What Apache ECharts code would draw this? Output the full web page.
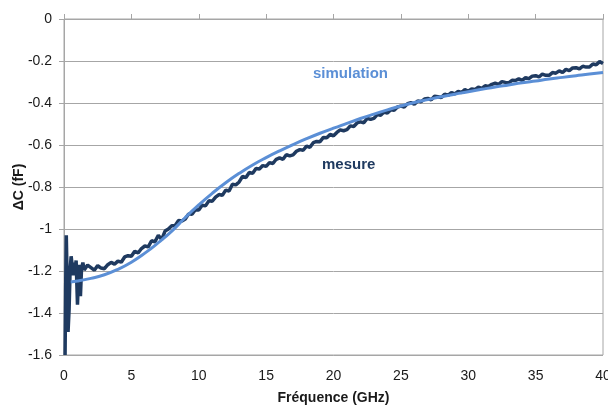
<!DOCTYPE html>
<html>
<head>
<meta charset="utf-8">
<script src="https://cdn.jsdelivr.net/npm/echarts@6/dist/echarts.min.js"></script>
<style>
  html, body { margin: 0; padding: 0; background: #fff; }
  #chart { width: 608px; height: 405px; }
</style>
</head>
<body>
<div id="chart"></div>
<script>
// ticks
const xTicks = [0, 5, 10, 15, 20, 25, 30, 35, 40];
const yTicks = [0, -0.2, -0.4, -0.6, -0.8, -1, -1.2, -1.4, -1.6];

// simulation (courbe lisse), GHz / fF
const simFreq = [0.5, 1, 2, 3, 4, 5, 6, 7, 8, 9, 10, 11, 12, 13, 14, 15, 16, 17, 18, 19, 20,
  21, 22, 23, 24, 25, 26, 27, 28, 29, 30, 31, 32, 33, 34, 35, 36, 37, 38, 39, 40];
const simVal = [-1.252, -1.248, -1.235, -1.218, -1.192, -1.158, -1.115, -1.065, -1.01, -0.945, -0.885,
  -0.83, -0.78, -0.735, -0.695, -0.66, -0.628, -0.598, -0.57, -0.544, -0.52,
  -0.497, -0.474, -0.453, -0.433, -0.414, -0.398, -0.384, -0.37, -0.358, -0.346,
  -0.335, -0.324, -0.314, -0.304, -0.295, -0.286, -0.278, -0.27, -0.262, -0.255];

// mesure : debut tres bruite (points irreguliers)
const mesDebutFreq = [0.08, 0.12, 0.17, 0.22, 0.3, 0.38, 0.45, 0.53, 0.6, 0.68, 0.75, 0.82, 0.9, 1.0, 1.08, 1.15, 1.22, 1.3, 1.4];
const mesDebutVal = [-1.6, -1.3, -1.03, -1.2, -1.49, -1.38, -1.2, -1.13, -1.17, -1.22, -1.16, -1.2, -1.15, -1.36, -1.22, -1.17, -1.32, -1.19, -1.16];

// mesure : pas de 0.25 GHz a partir de 1.5 GHz
const mesPasDebut = 1.5;
const mesPas = 0.25;
const mesVal = [
  -1.195, -1.172,
  -1.184, -1.196, -1.174, -1.186,
  -1.189, -1.17, -1.159, -1.167,
  -1.153, -1.158, -1.133, -1.127,
  -1.13, -1.106, -1.114, -1.093,
  -1.081, -1.085, -1.056, -1.061,
  -1.03, -1.05, -1.01, -1.0,
  -0.984, -0.983, -0.96, -0.962,
  -0.952, -0.928, -0.93, -0.908,
  -0.91, -0.887, -0.89, -0.866,
  -0.868, -0.848, -0.836, -0.84,
  -0.815, -0.819, -0.787, -0.79,
  -0.776, -0.749, -0.755, -0.731,
  -0.735, -0.712, -0.714, -0.698,
  -0.702, -0.684, -0.688, -0.668,
  -0.661, -0.668, -0.646, -0.652,
  -0.647, -0.63, -0.622, -0.625,
  -0.605, -0.611, -0.589, -0.583,
  -0.584, -0.564, -0.566, -0.55,
  -0.556, -0.54, -0.528, -0.532,
  -0.527, -0.509, -0.512, -0.495,
  -0.49, -0.494, -0.473, -0.478,
  -0.473, -0.455, -0.458, -0.443,
  -0.448, -0.432, -0.434, -0.419,
  -0.415, -0.419, -0.403, -0.398,
  -0.406, -0.39, -0.394, -0.381,
  -0.378, -0.385, -0.368, -0.37,
  -0.374, -0.358, -0.364, -0.35,
  -0.357, -0.345, -0.35, -0.336,
  -0.344, -0.333, -0.336, -0.324,
  -0.33, -0.318, -0.321, -0.311,
  -0.306, -0.311, -0.298, -0.302,
  -0.304, -0.292, -0.293, -0.285,
  -0.292, -0.279, -0.284, -0.272,
  -0.27, -0.276, -0.262, -0.268,
  -0.268, -0.255, -0.258, -0.247,
  -0.255, -0.24, -0.246, -0.233,
  -0.232, -0.238, -0.225, -0.229,
  -0.229, -0.214, -0.218, -0.203,
  -0.212
];

const simData = simFreq.map((f, i) => [f, simVal[i]]);
const mesData = mesDebutFreq.map((f, i) => [f, mesDebutVal[i]])
  .concat(mesVal.map((v, i) => [mesPasDebut + i * mesPas, v]));

const police = 'Liberation Sans, Arial, sans-serif';
const gris = '#a6a6a6';

const chart = echarts.init(document.getElementById('chart'));
chart.setOption({
  animation: false,
  grid: {
    left: 64, right: 5, top: 19, bottom: 50, outerBoundsMode: 'none',
    show: true, borderColor: gris, borderWidth: 1
  },
  xAxis: [{
    type: 'value', min: 0, max: 40, interval: 5, position: 'bottom',
    axisLine: { show: true, lineStyle: { color: gris } },
    axisTick: { show: false },
    splitLine: { show: false },
    axisLabel: { color: '#1a1a1a', fontSize: 14, fontFamily: police, margin: 14 },
    name: 'Fréquence (GHz)', nameLocation: 'middle', nameGap: 36,
    nameTextStyle: { color: '#1a1a1a', fontSize: 14, fontWeight: 'bold', fontFamily: police }
  }, {
    type: 'value', min: 0, max: 40, interval: 5, position: 'top',
    axisLine: { show: true, lineStyle: { color: gris } },
    axisTick: { show: true, length: 5, lineStyle: { color: gris } },
    axisLabel: { show: false }, splitLine: { show: false }
  }],
  yAxis: {
    type: 'value', min: -1.6, max: 0, interval: 0.2,
    axisLine: { show: true, lineStyle: { color: gris } },
    axisTick: { show: true, length: 5, lineStyle: { color: gris } },
    splitLine: { show: true, lineStyle: { color: gris, width: 1 } },
    axisLabel: {
      color: '#1a1a1a', fontSize: 14, fontFamily: police, margin: 12,
      formatter: v => String(parseFloat(v.toFixed(1)))
    },
    name: 'ΔC (fF)', nameLocation: 'middle', nameGap: 38, nameMoveOverlap: false,
    nameTextStyle: { color: '#1a1a1a', fontSize: 14, fontWeight: 'bold', fontFamily: police }
  },
  series: [{
    name: 'mesure', type: 'line', data: mesData, showSymbol: false,
    lineStyle: { color: '#1f3a60', width: 3.5 }, z: 2
  }, {
    name: 'simulation', type: 'line', data: simData, showSymbol: false, smooth: true,
    lineStyle: { color: '#5b8fd6', width: 3 }, z: 3
  }],
  graphic: [{
    type: 'text', left: 313, top: 66,
    style: { text: 'simulation', fill: '#5b8fd6', font: 'bold 15px ' + police }
  }, {
    type: 'text', left: 322, top: 157,
    style: { text: 'mesure', fill: '#1f3a60', font: 'bold 15px ' + police }
  }]
});
</script>
</body>
</html>
